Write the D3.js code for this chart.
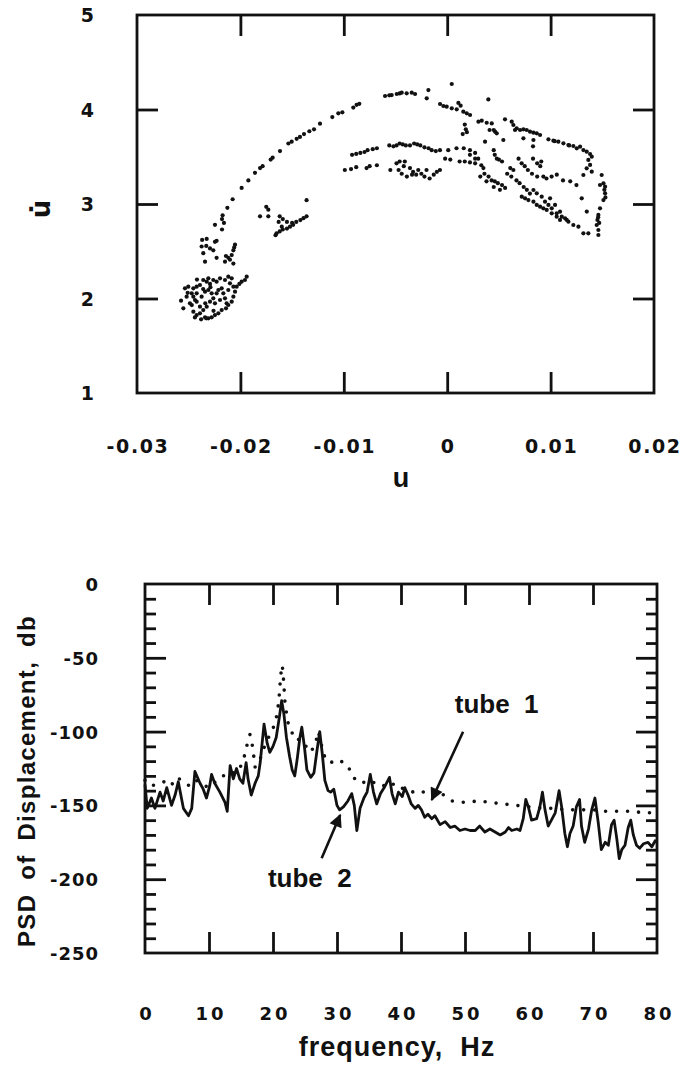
<!DOCTYPE html>
<html>
<head>
<meta charset="utf-8">
<script src="https://cdn.jsdelivr.net/npm/d3@7"></script>
<style>
  html, body { margin: 0; padding: 0; background: #fff; }
  svg { display: block; }
</style>
</head>
<body>
<svg id="chart" width="685" height="1068"></svg>
<script>
// ---------------- DATA: top panel (phase plane u vs u-dot) ----------------
const phaseXTicks = [-0.03, -0.02, -0.01, 0, 0.01, 0.02];
const phaseXTickLabels = ["-0.03", "-0.02", "-0.01", "0", "0.01", "0.02"];
const phaseYTicks = [1, 2, 3, 4, 5];
const phaseYTickLabels = ["1", "2", "3", "4", "5"];

const clusterLow = [
  [-0.01939,2.231],[-0.01956,2.196],[-0.01988,2.178],[-0.0201,2.154],[-0.02036,2.125],[-0.02052,2.072],
  [-0.02068,2.019],[-0.02084,1.966],[-0.02117,1.931],[-0.02139,1.896],[-0.02084,2.213],[-0.02117,2.231],
  [-0.02149,2.196],[-0.02197,2.213],[-0.0223,2.178],[-0.02262,2.196],[-0.0231,2.213],[-0.02326,2.178],
  [-0.02294,2.154],[-0.02359,2.196],[-0.02391,2.143],[-0.02423,2.125],[-0.02455,2.108],[-0.02504,2.125],
  [-0.02536,2.108],[-0.02471,2.055],[-0.02455,2.019],[-0.02439,1.984],[-0.02423,1.966],[-0.02574,1.977],
  [-0.02552,1.896],[-0.02455,1.861],[-0.02423,1.825],[-0.02391,1.843],[-0.02342,1.801],[-0.0231,1.79],
  [-0.02278,1.801],[-0.02246,1.825],[-0.02213,1.843],[-0.02181,1.878],[-0.02359,1.878],[-0.02326,1.914],
  [-0.02294,1.966],[-0.02262,2.002],[-0.0223,2.055],[-0.02213,2.09],[-0.02181,2.108],[-0.02165,2.055],
  [-0.02197,1.984],[-0.02246,1.949],[-0.02375,2.019],[-0.02342,2.072],[-0.0231,2.09],[-0.02391,1.914],
  [-0.02149,2.002],[-0.02133,1.949],[-0.02423,2.055],[-0.0252,2.019],[-0.02488,1.949],[-0.02278,2.055],
  [-0.02101,2.161],[-0.02068,2.125],[-0.02117,2.09],[-0.0242,2.2],[-0.0236,2.1],[-0.0229,2.12],
  [-0.0226,1.87],[-0.0234,1.95],[-0.0247,1.93],[-0.0251,2.06],[-0.0244,1.8],[-0.0238,1.78],[-0.0233,1.79]
];

const clusterUpperLeft = [
  [-0.02326,2.63],[-0.02246,2.60],[-0.0223,2.61],[-0.02375,2.55],[-0.0233,2.556],[-0.02294,2.53],
  [-0.02359,2.48],[-0.02262,2.51],[-0.0223,2.43],[-0.02342,2.39],[-0.02052,2.57],[-0.02068,2.51],
  [-0.02084,2.46],[-0.02117,2.43],[-0.02149,2.39],[-0.02068,2.37],[-0.02101,2.41],[-0.0214,2.45],
  [-0.0237,2.62],[-0.0206,2.54]
];

const outerArc = [
  [-0.02178,2.73],[-0.02246,2.78],[-0.02159,2.80],[-0.02178,2.84],[-0.02172,2.88],[-0.02126,2.96],
  [-0.02075,3.05],[-0.01988,3.17],[-0.01923,3.25],[-0.01859,3.33],[-0.0181,3.38],[-0.01785,3.40],
  [-0.01707,3.47],[-0.01688,3.49],[-0.01617,3.56],[-0.01536,3.64],[-0.01504,3.66],[-0.01456,3.69],
  [-0.01424,3.71],[-0.01385,3.74],[-0.01333,3.77],[-0.01288,3.79],[-0.0123,3.85],[-0.01111,3.92],
  [-0.01053,3.96],[-0.01014,3.97],[-0.00908,4.02],[-0.00876,4.05],[-0.0085,4.06],
  [-0.00601,4.143],[-0.0056,4.15],[-0.00537,4.153],[-0.00488,4.164],[-0.0046,4.17],[-0.0044,4.178],
  [-0.00392,4.171],[-0.00343,4.178],[-0.00311,4.164],[-0.00198,4.118],[-0.00182,4.206],
  [0.00044,4.27],[0.00398,4.107]
];

const clusterMiddle = [
  [-0.0175,2.97],[-0.0173,2.94],[-0.0181,2.87],[-0.0173,2.87],[-0.0162,2.87],[-0.0159,2.84],
  [-0.0155,2.81],[-0.0150,2.80],[-0.0146,2.81],[-0.0142,2.83],[-0.0139,2.85],[-0.0136,2.87],
  [-0.0136,3.04],[-0.0165,2.69],[-0.0162,2.71],[-0.0159,2.73],[-0.0155,2.74],[-0.0152,2.76],
  [-0.0149,2.78],[-0.0160,2.76],[-0.0163,2.81],[-0.0166,2.67]
];

const rightUpper = [
  [-0.00069,4.058],[-0.00037,4.037],[-0.00005,4.03],[0.00044,4.012],[0.00092,4.002],[0.00108,4.07],
  [0.00156,3.977],[0.00189,3.959],[0.00221,3.942],[0.0013,4.04],[0.00302,3.871],[0.00334,3.882],
  [0.00382,3.86],[0.00431,3.853],[0.00463,3.765],[0.00479,3.748],[0.0041,3.783],[0.0045,3.783],
  [0.0017,3.84],[0.0018,3.79],[0.0019,3.76],[0.0015,3.74],[0.00559,3.896],[0.00366,3.66],[0.00543,3.677],
  [0.00624,3.871],[0.0064,3.836],[0.00656,3.783],[0.00672,3.801],[0.00705,3.783],[0.00737,3.79],
  [0.00769,3.783],[0.00801,3.765],[0.00834,3.755],[0.00866,3.748],[0.00898,3.73],[0.00737,3.695],
  [0.00834,3.677],[0.00979,3.684],[0.01027,3.67],[0.01075,3.66],[0.01124,3.642],[0.01172,3.624],
  [0.0122,3.614],[0.01253,3.589],[0.01285,3.607],[0.01317,3.571],[0.01349,3.554],[0.01382,3.529],
  [0.01398,3.501],[0.0104,3.665],[0.0118,3.62],[0.0083,3.61]
];

const rightEdge = [
  [0.01365,3.466],[0.01382,3.413],[0.01349,3.377],[0.01398,3.342],[0.01317,3.307],[0.01494,3.307],
  [0.01511,3.219],[0.01478,3.201],[0.01527,3.183],[0.01527,3.113],[0.01511,3.042],[0.01478,2.954],
  [0.01462,2.884],[0.01453,2.831],[0.01446,2.778],[0.01462,2.725],[0.01462,2.672],[0.0146,2.86],
  [0.0147,2.8],[0.0152,3.15],[0.0153,3.07],[0.01301,3.06],[0.0135,2.92]
];

const lowerRightBands = [
  [0.00721,3.078],[0.00753,3.06],[0.00785,3.042],[0.00834,3.025],[0.00866,2.99],[0.00898,2.972],
  [0.0093,2.954],[0.00962,2.937],[0.01011,2.901],[0.01059,2.866],[0.01091,2.831],[0.0114,2.848],
  [0.01172,2.813],[0.0122,2.778],[0.01269,2.76],[0.01317,2.69],[0.01365,2.69],
  [0.00834,3.148],[0.00866,3.113],[0.00914,3.078],[0.00946,3.025],[0.00979,2.99],[0.01011,2.954],
  [0.01059,2.901],[0.01108,2.866],[0.01156,2.831],[0.01091,2.919],[0.01043,2.99],[0.00995,3.06]
];

const middleBands = [
  [-0.0092,3.52],[-0.0088,3.53],[-0.0084,3.54],[-0.0080,3.55],[-0.0077,3.57],[-0.0072,3.58],
  [-0.0068,3.59],[-0.0056,3.62],[-0.0052,3.61],[-0.0049,3.62],[-0.0046,3.64],[-0.0043,3.63],
  [-0.0040,3.62],[-0.0036,3.62],[-0.0032,3.64],[-0.0029,3.63],[-0.0026,3.62],[-0.0022,3.60],
  [-0.0018,3.59],[-0.0015,3.57],[-0.0011,3.56],[-0.0007,3.57],[0.0001,3.57],[0.0009,3.59],
  [0.0016,3.59],[0.0022,3.57],[0.0027,3.54],[-0.0002,3.48],[0.0003,3.47],[0.0012,3.45],
  [0.0017,3.45],[0.0022,3.44],[0.0027,3.43],
  [-0.0099,3.36],[-0.0093,3.37],[-0.0088,3.39],[-0.0078,3.38],[-0.0075,3.40],[-0.0068,3.41],
  [-0.0055,3.36],[-0.0049,3.43],[-0.0046,3.45],[-0.0041,3.45],[-0.0036,3.38],[-0.0033,3.34],
  [-0.0030,3.31],[-0.0025,3.32],[-0.0022,3.29],[-0.0017,3.27],[-0.0013,3.31],[-0.0010,3.34],
  [-0.0007,3.36],[-0.0044,3.32],[-0.0039,3.29],[-0.0034,3.31],[-0.0047,3.36],[-0.0028,3.36],
  [-0.0020,3.36],[-0.0042,3.40]
];

const diagonalClump = [
  [0.0030,3.48],[0.0033,3.41],[0.0035,3.38],[0.0036,3.32],[0.0040,3.29],[0.0043,3.25],[0.0046,3.24],
  [0.0049,3.22],[0.0053,3.20],[0.0056,3.17],[0.0045,3.57],[0.0046,3.52],[0.0048,3.48],[0.0050,3.47],
  [0.0053,3.45],[0.0061,3.38],[0.0064,3.36],[0.0069,3.48],[0.0072,3.43],[0.0075,3.40],[0.0078,3.36],
  [0.0082,3.32],[0.0087,3.29],[0.0091,3.45],[0.0093,3.29],[0.0096,3.27],[0.0101,3.29],[0.0106,3.31],
  [0.0112,3.25],[0.0119,3.24],[0.0125,3.20],[0.0058,3.32],[0.0062,3.29],[0.0067,3.25],[0.0070,3.22],
  [0.0074,3.18],[0.0077,3.15],[0.0080,3.11],[0.0083,3.48],[0.0087,3.43],[0.0090,3.40],[0.0032,3.29],
  [0.0038,3.24],[0.0045,3.18],[0.0051,3.15],[0.0022,3.52],[0.0027,3.48]
];

// ---------------- DATA: bottom panel (PSD) ----------------
const freqTicks = [0, 10, 20, 30, 40, 50, 60, 70, 80];
const freqTickLabels = ["0", "10", "20", "30", "40", "50", "60", "70", "80"];
const psdTicks = [0, -50, -100, -150, -200, -250];
const psdTickLabels = ["0", "-50", "-100", "-150", "-200", "-250"];
const psdMinorTicks = [-10,-20,-30,-40,-60,-70,-80,-90,-110,-120,-130,-140,-160,-170,-180,-190,-210,-220,-230,-240];

// tube 2 (solid line): [frequency Hz, PSD dB]
const tube2 = [
  [0.0,-136],[0.35,-152],[1.0,-145],[1.55,-152],[2.35,-141],[2.85,-147],[3.4,-138],[4.15,-150],
  [4.7,-143],[5.2,-134],[6.0,-152],[6.8,-157],[7.3,-152],[7.8,-127],[8.6,-135],[9.1,-139],
  [9.6,-145],[10.1,-137],[10.4,-129],[10.9,-135],[11.7,-141],[12.5,-148],[12.85,-154],[13.3,-123],
  [13.8,-132],[14.3,-125],[14.8,-132],[15.3,-135],[15.8,-121],[16.1,-132],[16.6,-143],[17.2,-135],
  [17.7,-130],[18.0,-121],[18.6,-95],[19.1,-108],[19.5,-114],[20.0,-110],[20.5,-104],[21.0,-90],
  [21.35,-79],[21.7,-88],[22.1,-104],[22.6,-117],[23.0,-126],[23.4,-130],[23.8,-118],[24.2,-104],
  [24.5,-97],[24.9,-110],[25.3,-126],[25.9,-131],[26.4,-128],[26.9,-112],[27.3,-100],[27.7,-115],
  [28.1,-133],[28.6,-140],[29.0,-141],[29.5,-139],[30.0,-150],[30.4,-153],[31.0,-151],[31.7,-147],
  [32.3,-142],[32.7,-150],[33.1,-167],[33.6,-152],[34.2,-145],[34.7,-141],[35.2,-129],[35.7,-141],
  [36.2,-149],[36.8,-142],[37.5,-137],[38.2,-131],[38.6,-142],[39.1,-149],[39.6,-141],[40.2,-144],
  [40.6,-138],[41.1,-143],[41.6,-149],[42.2,-152],[42.7,-150],[43.2,-153],[43.7,-158],[44.2,-156],
  [44.8,-159],[45.3,-157],[46.1,-163],[46.9,-161],[47.7,-165],[48.4,-164],[49.2,-167],[50.0,-166],
  [50.8,-167],[51.6,-167],[52.3,-164],[53.1,-168],[53.9,-166],[54.7,-168],[55.5,-170],[56.3,-168],
  [56.8,-165],[57.3,-167],[58.1,-166],[58.6,-167],[59.1,-159],[59.5,-146],[59.9,-151],[60.4,-160],
  [61.2,-159],[61.7,-151],[62.1,-141],[62.5,-153],[63.0,-164],[63.5,-160],[64.1,-155],[64.7,-140],
  [65.1,-151],[65.6,-169],[66.0,-178],[66.4,-169],[66.9,-164],[67.4,-151],[67.9,-146],[68.2,-164],
  [68.7,-175],[69.3,-166],[69.8,-153],[70.3,-145],[70.8,-161],[71.3,-180],[71.9,-175],[72.4,-177],
  [72.9,-163],[73.3,-160],[73.7,-172],[74.1,-186],[74.5,-180],[75.0,-177],[75.5,-165],[75.9,-160],
  [76.3,-170],[76.8,-177],[77.3,-179],[77.9,-176],[78.6,-175],[79.2,-178],[79.7,-174],[80.0,-175]
];

// tube 1 (dotted line): [frequency Hz, PSD dB]
const tube1 = [
  [0,-133],[1,-137],[2,-135],[3,-134],[4,-137],[5,-131],[6,-134],[7,-137],[8,-133],[9,-136],
  [10,-138],[11,-134],[12,-131],[13,-127],[14,-128],[14.9,-124],[15.5,-117],[16.0,-108],[16.4,-102],
  [16.8,-110],[17.2,-124],[17.8,-121],[18.5,-112],[19.3,-104],[20.0,-98],[20.5,-91],[20.9,-80],
  [21.1,-68],[21.3,-58],[21.45,-55],[21.6,-62],[21.9,-82],[22.4,-95],[23.0,-101],[23.6,-106],
  [24.2,-105],[25.0,-109],[25.8,-114],[26.5,-110],[27.1,-100],[27.5,-108],[28.2,-119],[29.0,-121],
  [30.2,-119],[31.0,-121],[31.7,-123],[32.3,-129],[33.1,-134],[34.0,-134],[35.0,-136],[36.0,-134],
  [37.0,-136],[38.0,-138],[39.0,-135],[40.0,-138],[41.0,-140],[42.0,-141],[43.0,-140],[44.0,-142],
  [45.0,-140],[46.0,-141],[47.0,-144],[48.0,-147],[50.0,-148],[52.0,-147],[54.0,-148],[56.0,-149],
  [58.0,-150],[60.0,-151],[62.0,-152],[64.0,-152],[66.0,-153],[68.0,-153],[70.0,-153],[72.0,-154],
  [74.0,-154],[76.0,-154],[78.0,-155],[80.0,-155]
];

// annotations: label text, label anchor [Hz, dB], arrow tail [Hz, dB], arrow tip [Hz, dB]
const annotations = [
  { text: "tube 1", at: [48.4, -87.4], tail: [49.7, -100.1], tip: [44.8, -146.3] },
  { text: "tube 2", at: [19.2, -205.3], tail: [27.6, -185.8], tip: [30.5, -156.5] }
];

// ---------------- DRAWING ----------------
const svg = d3.select("#chart");
const ink = "#111";
const tickFont = "'DejaVu Sans', sans-serif";
const titleFont = "'Liberation Sans', Arial, sans-serif";

// ----- Top panel -----
const xT = d3.scaleLinear().domain([-0.03, 0.02]).range([137, 654]);
const yT = d3.scaleLinear().domain([1, 5]).range([393, 15]);
const gT = svg.append("g");

const allPhase = [].concat(clusterLow, clusterUpperLeft, outerArc, clusterMiddle, rightUpper,
  rightEdge, lowerRightBands, middleBands, diagonalClump);
gT.append("g").selectAll("circle").data(allPhase).join("circle")
  .attr("cx", d => xT(d[0])).attr("cy", d => yT(d[1])).attr("r", 2.1).attr("fill", ink);

function styleTicks(g) {
  g.select(".domain").remove();
  g.selectAll(".tick line").attr("stroke", ink).attr("stroke-width", 2.8);
  g.selectAll(".tick text").remove();
}
const innerX = [-0.02, -0.01, 0, 0.01];
const innerY = [2, 3, 4];
gT.append("g").attr("transform", `translate(0,${yT(1)})`)
  .call(d3.axisBottom(xT).tickValues(innerX).tickSize(-21)).call(styleTicks);
gT.append("g").attr("transform", `translate(0,${yT(5)})`)
  .call(d3.axisTop(xT).tickValues(innerX).tickSize(-21)).call(styleTicks);
gT.append("g").attr("transform", `translate(${xT(-0.03)},0)`)
  .call(d3.axisLeft(yT).tickValues(innerY).tickSize(-21)).call(styleTicks);
gT.append("g").attr("transform", `translate(${xT(0.02)},0)`)
  .call(d3.axisRight(yT).tickValues(innerY).tickSize(-21)).call(styleTicks);

gT.append("rect").attr("x", xT(-0.03)).attr("y", yT(5))
  .attr("width", xT(0.02) - xT(-0.03)).attr("height", yT(1) - yT(5))
  .attr("fill", "none").attr("stroke", ink).attr("stroke-width", 2.8);

// tick labels
gT.append("g").selectAll("text").data(phaseXTicks).join("text")
  .attr("x", d => xT(d) + 1).attr("y", 453)
  .attr("text-anchor", "middle").attr("font-family", tickFont).attr("font-weight", "bold")
  .attr("font-size", 19).attr("letter-spacing", 1.6).attr("fill", ink)
  .text((d, i) => phaseXTickLabels[i]);
gT.append("g").selectAll("text").data(phaseYTicks).join("text")
  .attr("x", 94).attr("y", d => yT(d) + 7)
  .attr("text-anchor", "end").attr("font-family", tickFont).attr("font-weight", "bold")
  .attr("font-size", 19).attr("fill", ink)
  .text((d, i) => phaseYTickLabels[i]);

// axis titles
gT.append("text").attr("x", 401).attr("y", 487).attr("text-anchor", "middle")
  .attr("font-family", titleFont).attr("font-weight", "bold").attr("font-size", 27).attr("fill", ink)
  .text("u");
gT.append("text").attr("transform", "translate(50,209) rotate(-90)").attr("text-anchor", "middle")
  .attr("font-family", tickFont).attr("font-weight", "bold").attr("font-size", 26).attr("fill", ink)
  .text("u\u0307");

// ----- Bottom panel -----
const xB = d3.scaleLinear().domain([0, 80]).range([145, 657]);
const yB = d3.scaleLinear().domain([-250, 0]).range([953, 584]);
const gB = svg.append("g");

const innerF = [10, 20, 30, 40, 50, 60, 70];
const majorPsd = [-50, -100, -150, -200];
gB.append("g").attr("transform", `translate(0,${yB(-250)})`)
  .call(d3.axisBottom(xB).tickValues(innerF).tickSize(-21)).call(styleTicks);
gB.append("g").attr("transform", `translate(0,${yB(0)})`)
  .call(d3.axisTop(xB).tickValues(innerF).tickSize(-21)).call(styleTicks);
gB.append("g").attr("transform", `translate(${xB(0)},0)`)
  .call(d3.axisLeft(yB).tickValues(majorPsd).tickSize(-21)).call(styleTicks);
gB.append("g").attr("transform", `translate(${xB(0)},0)`)
  .call(d3.axisLeft(yB).tickValues(psdMinorTicks).tickSize(-11)).call(styleTicks);
gB.append("g").attr("transform", `translate(${xB(80)},0)`)
  .call(d3.axisRight(yB).tickValues(majorPsd).tickSize(-21)).call(styleTicks);
gB.append("g").attr("transform", `translate(${xB(80)},0)`)
  .call(d3.axisRight(yB).tickValues(psdMinorTicks).tickSize(-11)).call(styleTicks);

gB.append("rect").attr("x", xB(0)).attr("y", yB(0))
  .attr("width", xB(80) - xB(0)).attr("height", yB(-250) - yB(0))
  .attr("fill", "none").attr("stroke", ink).attr("stroke-width", 2.8);

const line = d3.line().x(d => xB(d[0])).y(d => yB(d[1]));
gB.append("path").datum(tube1).attr("d", line).attr("fill", "none")
  .attr("stroke", ink).attr("stroke-width", 3.6).attr("stroke-linecap", "round")
  .attr("stroke-dasharray", "0 11");
gB.append("path").datum(tube2).attr("d", line).attr("fill", "none")
  .attr("stroke", ink).attr("stroke-width", 2.8).attr("stroke-linejoin", "round");

// tick labels
gB.append("g").selectAll("text").data(freqTicks).join("text")
  .attr("x", d => xB(d) + 2).attr("y", 1020)
  .attr("text-anchor", "middle").attr("font-family", tickFont).attr("font-weight", "bold")
  .attr("font-size", 18).attr("letter-spacing", 3).attr("fill", ink)
  .text((d, i) => freqTickLabels[i]);
gB.append("g").selectAll("text").data(psdTicks).join("text")
  .attr("x", 99).attr("y", d => yB(d) + 7)
  .attr("text-anchor", "end").attr("font-family", tickFont).attr("font-weight", "bold")
  .attr("font-size", 18).attr("letter-spacing", 1).attr("fill", ink)
  .text((d, i) => psdTickLabels[i]);

// axis titles
gB.append("text").attr("x", 397).attr("y", 1056).attr("text-anchor", "middle")
  .attr("font-family", titleFont).attr("font-weight", "bold").attr("font-size", 27)
  .attr("letter-spacing", 1).attr("fill", ink).attr("xml:space", "preserve")
  .text("frequency,  Hz");
gB.append("text").attr("transform", "translate(35,781) rotate(-90)").attr("text-anchor", "middle")
  .attr("font-family", titleFont).attr("font-weight", "bold").attr("font-size", 24)
  .attr("letter-spacing", 1.3).attr("word-spacing", 6).attr("fill", ink)
  .text("PSD of Displacement, db");

// annotations with arrows
const defs = svg.append("defs");
defs.append("marker").attr("id", "arrowhead").attr("viewBox", "0 0 10 10")
  .attr("refX", 9).attr("refY", 5).attr("markerWidth", 6).attr("markerHeight", 5)
  .attr("markerUnits", "strokeWidth").attr("orient", "auto")
  .append("path").attr("d", "M0,0 L10,5 L0,10 Z").attr("fill", ink);

annotations.forEach(a => {
  gB.append("text").attr("x", xB(a.at[0])).attr("y", yB(a.at[1]))
    .attr("font-family", titleFont).attr("font-weight", "bold").attr("font-size", 26)
    .attr("fill", ink).attr("xml:space", "preserve").text(a.text.replace(" ", "  "));
  gB.append("line").attr("x1", xB(a.tail[0])).attr("y1", yB(a.tail[1]))
    .attr("x2", xB(a.tip[0])).attr("y2", yB(a.tip[1]))
    .attr("stroke", ink).attr("stroke-width", 2.6).attr("marker-end", "url(#arrowhead)");
});
</script>
</body>
</html>
